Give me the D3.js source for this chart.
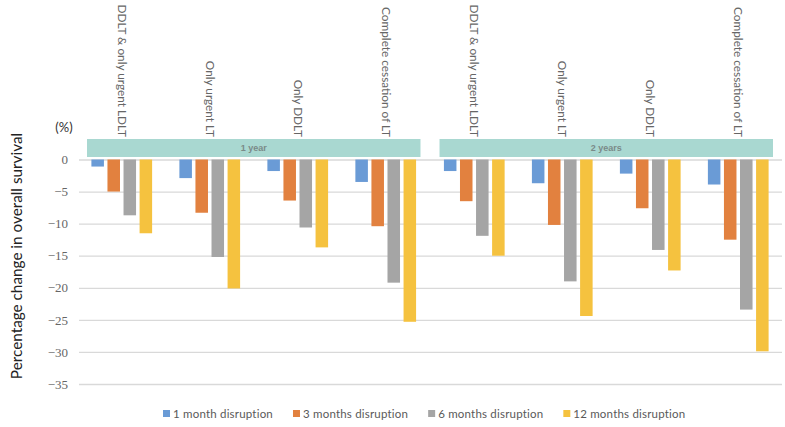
<!DOCTYPE html>
<html><head><meta charset="utf-8">
<script src="https://cdn.jsdelivr.net/npm/d3@7"></script>
<style>body{margin:0;background:#fff}svg{display:block}</style>
</head><body>
<svg id="c" width="785" height="427"></svg>
<script>
const facets = ["1 year", "2 years"];
const categories = ["DDLT & only urgent LDLT", "Only urgent LT", "Only DDLT", "Complete cessation of LT"];
const seriesNames = ["1 month disruption", "3 months disruption", "6 months disruption", "12 months disruption"];
const seriesColors = ["#6a9bd6", "#e2813f", "#a5a5a5", "#f5c23f"];
// values[facet][category][series]
const oneYear = [
  [-1.1, -5.0, -8.7, -11.5],
  [-2.9, -8.3, -15.2, -20.1],
  [-1.8, -6.4, -10.6, -13.7],
  [-3.5, -10.4, -19.2, -25.3]
];
const twoYears = [
  [-1.8, -6.5, -11.9, -15.0],
  [-3.7, -10.2, -19.0, -24.4],
  [-2.2, -7.6, -14.1, -17.3],
  [-3.9, -12.5, -23.4, -29.9]
];
const yTicks = [0, -5, -10, -15, -20, -25, -30, -35];
const valuesByFacet = [oneYear, twoYears];

const svg = d3.select("#c");
const y = d3.scaleLinear().domain([-35, 0]).range([384, 159.5]);
const xFacet = d3.scaleBand().domain(facets).range([87, 773]).paddingInner(0.054);
const xCat = d3.scaleBand().domain(categories).range([0, xFacet.bandwidth()]).paddingInner(0.31).paddingOuter(0.05);
const xSer = d3.scaleBand().domain(seriesNames).range([0, xCat.bandwidth()]).paddingInner(0.22);
const color = d3.scaleOrdinal().domain(seriesNames).range(seriesColors);

// gridlines + tick labels
const yAxis = d3.axisLeft(y).tickValues(yTicks).tickSize(-(782 - 79)).tickFormat(d3.format("d"));
const ga = svg.append("g").attr("transform", "translate(79,0)").call(yAxis);
ga.select(".domain").remove();
ga.selectAll(".tick line").attr("stroke", "#d9d9d9").attr("stroke-width", 1.3);
ga.selectAll(".tick text").attr("x", -11).attr("fill", "#666")
  .style("font-family", "'Liberation Serif', 'DejaVu Serif', serif").style("font-size", "13px");

// facet strips
facets.forEach((f, fi) => {
  const g = svg.append("g").attr("transform", `translate(${xFacet(f)},0)`);
  g.append("rect").attr("x", 0).attr("y", 139).attr("width", xFacet.bandwidth()).attr("height", 18)
    .attr("fill", "#a9d8d1");
  g.append("text").attr("x", xFacet.bandwidth() / 2).attr("y", 148).attr("dy", "0.35em")
    .attr("text-anchor", "middle").attr("fill", "#7a8a88")
    .style("font-family", "'Liberation Sans', Arial, sans-serif").style("font-size", "9px").style("font-weight", "bold")
    .text(f);
  // category labels
  g.selectAll("text.cat").data(categories).join("text").attr("class", "cat")
    .attr("transform", d => `translate(${xCat(d) + xCat.bandwidth() / 2},137) rotate(90)`)
    .attr("text-anchor", "end").attr("dy", "0.35em").attr("fill", "#666")
    .style("font-family", "Lato, 'Open Sans', sans-serif").style("font-size", "11.8px")
    .text(d => d);
  // bars
  const vals = valuesByFacet[fi];
  categories.forEach((c, ci) => {
    const gc = g.append("g").attr("transform", `translate(${xCat(c)},0)`);
    gc.selectAll("rect").data(seriesNames.map((s, si) => ({s, v: vals[ci][si]}))).join("rect")
      .attr("x", d => xSer(d.s)).attr("width", xSer.bandwidth())
      .attr("y", y(0)).attr("height", d => y(d.v) - y(0))
      .attr("fill", d => color(d.s));
  });
});

// (%) label
svg.append("text").attr("x", 64).attr("y", 132).attr("text-anchor", "middle").attr("fill", "#333")
  .style("font-family", "Lato, 'Open Sans', sans-serif").style("font-size", "13px").text("(%)");

// y title
svg.append("text").attr("transform", "translate(17,256) rotate(-90)").attr("text-anchor", "middle")
  .attr("dy", "0.35em").attr("fill", "#222")
  .style("font-family", "Lato, 'Open Sans', sans-serif").style("font-size", "15.3px")
  .text("Percentage change in overall survival");

// legend
const lg = svg.append("g");
let lx = 163;
seriesNames.forEach(s => {
  const it = lg.append("g").attr("transform", `translate(${lx},0)`);
  it.append("rect").attr("x", 0).attr("y", 410).attr("width", 7).attr("height", 7).attr("fill", color(s));
  const t = it.append("text").attr("x", 10).attr("y", 414).attr("dy", "0.35em").attr("fill", "#595959")
    .style("font-family", "Lato, 'Open Sans', sans-serif").style("font-size", "11.5px").style("letter-spacing", "0.2px")
    .text(s);
  lx += 10 + t.node().getComputedTextLength() + 20;
});
</script>
</body></html>
